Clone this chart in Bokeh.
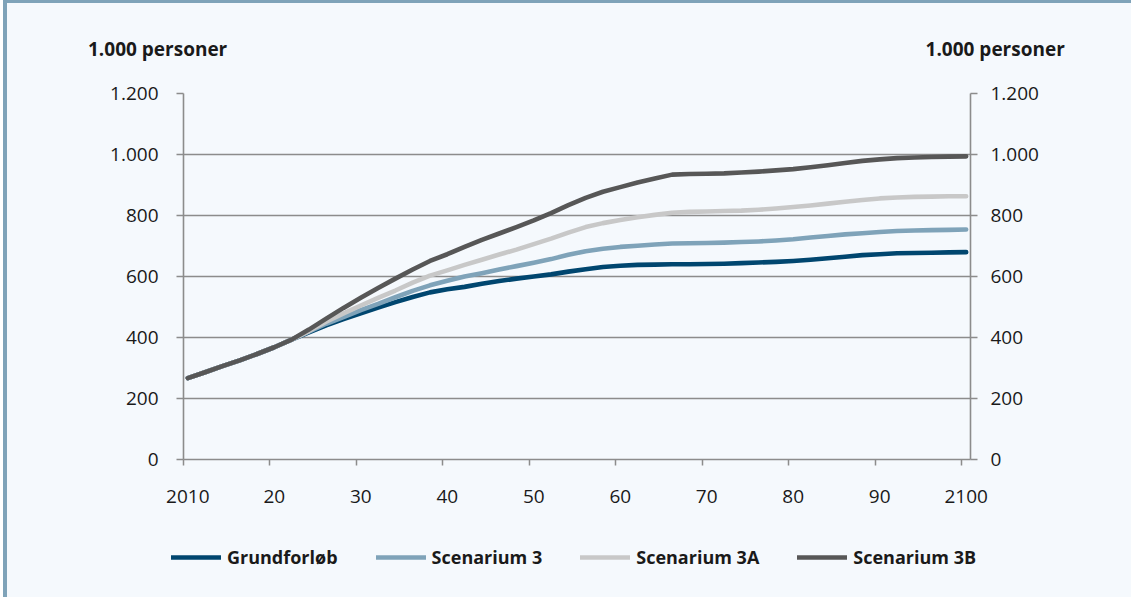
from bokeh.plotting import figure
from bokeh.layouts import column
from bokeh.models import Range1d, LinearAxis, FixedTicker, Legend, LegendItem, Label
from bokeh.embed import file_html
from bokeh.resources import INLINE

# ---- data ----
years = [2010, 2012, 2014, 2016, 2018, 2020, 2022, 2024, 2026, 2028, 2030, 2032,
         2034, 2036, 2038, 2040, 2042, 2044, 2046, 2048, 2050, 2052, 2054, 2056,
         2058, 2060, 2062, 2064, 2066, 2068, 2070, 2072, 2074, 2076, 2078, 2080,
         2082, 2084, 2086, 2088, 2090, 2092, 2094, 2096, 2098, 2100]
grundforloeb = [267, 286, 306, 325, 346, 368, 393, 417, 440, 460, 479, 498,
                516, 533, 548, 558, 566, 576, 585, 593, 600, 607, 616, 624,
                631, 635, 638, 639, 640, 640, 641, 642, 644, 646, 648, 651,
                655, 660, 665, 670, 673, 676, 677, 678, 679, 680]
scenarium_3 = [267, 286, 306, 325, 346, 368, 393, 419, 445, 467, 490, 510,
               532, 553, 571, 586, 600, 611, 623, 634, 645, 657, 671, 683,
               691, 697, 701, 705, 708, 709, 710, 711, 713, 715, 718, 722,
               728, 733, 738, 742, 746, 749, 751, 752, 753, 754]
scenarium_3a = [267, 286, 306, 325, 346, 368, 393, 421, 452, 479, 505, 530,
                554, 580, 603, 620, 638, 655, 672, 688, 706, 724, 744, 762,
                775, 785, 794, 802, 809, 812, 813, 815, 816, 819, 823, 828,
                833, 839, 845, 851, 856, 859, 861, 862, 863, 863]
scenarium_3b = [267, 286, 306, 325, 346, 368, 393, 426, 462, 497, 530, 562,
                593, 623, 651, 673, 697, 720, 741, 762, 784, 808, 834, 858,
                878, 893, 908, 921, 934, 936, 937, 938, 941, 944, 948, 952,
                958, 965, 972, 979, 984, 988, 990, 992, 993, 994]

series_names = ["Grundforløb", "Scenarium 3", "Scenarium 3A", "Scenarium 3B"]
series_values = [grundforloeb, scenarium_3, scenarium_3a, scenarium_3b]
series_colors = ["#00466f", "#7fa3b9", "#c8c8c8", "#575757"]

x_tick_years = [2010, 2020, 2030, 2040, 2050, 2060, 2070, 2080, 2090, 2100]
x_tick_labels = ["2010", "20", "30", "40", "50", "60", "70", "80", "90", "2100"]
y_ticks = [0, 200, 400, 600, 800, 1000, 1200]
y_tick_labels = ["0", "200", "400", "600", "800", "1.000", "1.200"]
unit_label = "1.000 personer"

FONT = "Open Sans"
BG = "#f5f9fd"
GRID = "#8c8c8c"
TXT = "#1a1a1a"
FRAME_BAR = "#7fa3b9"

# ---- layout constants (pixels) ----
W = 1124
H_TOP, H_MAIN, H_BOT = 70, 452, 72
BL, BR, BT, BB = 176, 161, 20, 66
X0, X1 = 2009.5, 2100.5
Y0, Y1 = 0, 1200
px_x = (W - BL - BR) / (X1 - X0)
px_y = (H_MAIN - BT - BB) / (Y1 - Y0)
XE0 = X0 - BL / px_x
XE1 = X1 + BR / px_x
TOP_Y0 = Y1 + BT / px_y
TOP_Y1 = TOP_Y0 + H_TOP / px_y


def strip(height, y_range):
    return figure(width=W, height=height, output_backend="svg", toolbar_location=None,
                  x_range=Range1d(XE0, XE1), y_range=y_range, frame_align=False,
                  x_axis_type=None, y_axis_type=None, min_border=0,
                  background_fill_color=BG, border_fill_color=BG, outline_line_color=None)


# ---- top strip: unit labels ----
top = strip(H_TOP, Range1d(TOP_Y0, TOP_Y1))
unit_base = TOP_Y0 + 25 / px_y   # baseline 25px above the strip bottom
for xx, align in [(X0 - 95.5 / px_x, "left"), (X1 + 94.3 / px_x, "right")]:
    top.add_layout(Label(x=xx, y=unit_base, text=unit_label, text_align=align,
                         text_baseline="alphabetic", text_font=FONT, text_font_size="19px",
                         text_font_style="bold", text_color=TXT))

# ---- main plot ----
p = figure(width=W, height=H_MAIN, output_backend="svg", toolbar_location=None,
           x_range=Range1d(X0, X1), y_range=Range1d(Y0, Y1), frame_align=False,
           min_border_left=BL, min_border_right=BR, min_border_top=BT, min_border_bottom=BB,
           background_fill_color=BG, border_fill_color=BG, outline_line_color=None)

p.xgrid.grid_line_color = None
p.ygrid.grid_line_color = GRID
p.ygrid.grid_line_width = 1.3
p.ygrid.ticker = FixedTicker(ticks=y_ticks)

xa = p.xaxis[0]
xa.ticker = FixedTicker(ticks=x_tick_years, minor_ticks=[y - 0.5 for y in x_tick_years])
xa.major_label_overrides = {y: l for y, l in zip(x_tick_years, x_tick_labels)}
xa.major_tick_line_color = None
xa.major_tick_out = 6
xa.major_tick_in = 0
xa.minor_tick_line_color = GRID
xa.minor_tick_line_width = 1.5
xa.minor_tick_out = 6
xa.minor_tick_in = 0
xa.axis_line_color = GRID
xa.axis_line_width = 1.6
xa.major_label_standoff = 24
xa.major_label_text_font = FONT
xa.major_label_text_font_size = "19px"
xa.major_label_text_color = TXT


def style_y(ax, standoff):
    ax.ticker = FixedTicker(ticks=y_ticks)
    ax.major_label_overrides = {t: l for t, l in zip(y_ticks, y_tick_labels)}
    ax.minor_tick_line_color = None
    ax.major_tick_line_color = GRID
    ax.major_tick_line_width = 1.5
    ax.major_tick_out = 7
    ax.major_tick_in = 0
    ax.axis_line_color = GRID
    ax.axis_line_width = 1.6
    ax.major_label_standoff = standoff
    ax.major_label_text_font = FONT
    ax.major_label_text_font_size = "19px"
    ax.major_label_text_color = TXT


style_y(p.yaxis[0], 18)
ry = LinearAxis()
style_y(ry, 13)
p.add_layout(ry, "right")

for name, vals, col in zip(series_names, series_values, series_colors):
    p.line(years, vals, line_color=col, line_width=4.6, line_cap="round", line_join="round")

# ---- bottom strip: legend (legend samples styled like the plotted series) ----
bot = strip(H_BOT, Range1d(0, 1))
items = []
for name, vals, col in zip(series_names, series_values, series_colors):
    # sample renderer kept outside the strip's visible y-range; only its legend swatch shows
    r = bot.line([years[0], years[-1]], [-5, -5], line_color=col, line_width=4.6,
                 line_cap="round")
    items.append(LegendItem(label=name, renderers=[r]))
legend = Legend(items=items, orientation="horizontal", location=(164, 28),
                glyph_width=50, glyph_height=20, label_height=20, label_standoff=6, spacing=38,
                padding=0, margin=0, border_line_color=None, background_fill_alpha=0,
                label_text_font=FONT, label_text_font_size="18px", label_text_font_style="bold",
                label_text_color=TXT)
bot.add_layout(legend, "center")

layout = column(top, p, bot, spacing=0,
                styles={"margin-left": "3px", "border-left": "4px solid " + FRAME_BAR,
                        "border-top": "3px solid " + FRAME_BAR,
                        "background-color": BG})

open("out.html", "w").write(file_html(layout, INLINE))
